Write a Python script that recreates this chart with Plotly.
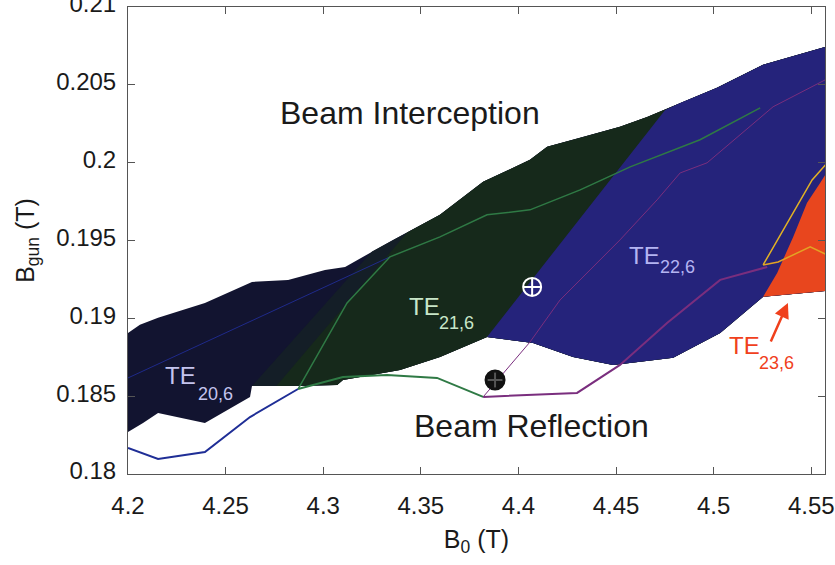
import plotly.graph_objects as go

# ---- data (B0 in T, Bgun in T) ----
top_x = [4.2, 4.2061, 4.2154, 4.2394, 4.2635, 4.2820, 4.3009, 4.3112, 4.3358, 4.3598, 4.3819,
         4.4059, 4.4147, 4.4316, 4.4520, 4.4659, 4.4828, 4.5017, 4.5253, 4.5376, 4.5571]
top_y = [0.18906, 0.18958, 0.19003, 0.19099, 0.19234, 0.19247, 0.19311, 0.19330, 0.19504, 0.19665, 0.19877,
         0.20018, 0.20102, 0.20159, 0.20230, 0.20294, 0.20384, 0.20481, 0.20629, 0.20674, 0.20744]
bot_x = [4.2, 4.2077, 4.2154, 4.2394, 4.2625, 4.2635, 4.2881, 4.3071, 4.3101, 4.3393, 4.3598, 4.3839,
         4.4075, 4.4280, 4.4485, 4.4587, 4.4792, 4.5033, 4.5253, 4.5530, 4.5571]
bot_y = [0.18270, 0.18328, 0.18392, 0.18328, 0.18495, 0.18566, 0.18566, 0.18572, 0.18604, 0.18668, 0.18752, 0.18880,
         0.18842, 0.18752, 0.18701, 0.18713, 0.18746, 0.18906, 0.19138, 0.19170, 0.19176]

# boundaries between mode regions (bottom point, top point); 20/21 boundary is a soft transition
div21a_x = [4.2635, 4.3250]
div21a_y = [0.18566, 0.19430]
div21b_x = [4.2760, 4.3430]
div21b_y = [0.18566, 0.19552]
div22_x = [4.3839, 4.4751]
div22_y = [0.18880, 0.20339]

te23_x = [4.5253, 4.5325, 4.5407, 4.5478, 4.5545, 4.5571, 4.5571, 4.5530]
te23_y = [0.19138, 0.19292, 0.19523, 0.19742, 0.19870, 0.19922, 0.19176, 0.19170]

# contour lines
blue_low_x = [4.2, 4.2154, 4.2394, 4.2625, 4.2871]
blue_low_y = [0.18167, 0.18096, 0.18141, 0.18366, 0.18546]
blue_up_x = [4.2, 4.3342]
blue_up_y = [0.18617, 0.19395]
green_up_x = [4.2871, 4.3122, 4.3342, 4.3598, 4.3839, 4.4059, 4.4316, 4.4572, 4.4930, 4.5238]
green_up_y = [0.18546, 0.19099, 0.19395, 0.19523, 0.19665, 0.19697, 0.19825, 0.19973, 0.20147, 0.20352]
green_low_x = [4.2871, 4.3101, 4.3327, 4.3583, 4.3819]
green_low_y = [0.18546, 0.18623, 0.18636, 0.18617, 0.18495]
purple_low_x = [4.3819, 4.4300, 4.4520, 4.4761, 4.5033, 4.5274]
purple_low_y = [0.18495, 0.18521, 0.18701, 0.18970, 0.19247, 0.19330]
purple_up_x = [4.3819, 4.4059, 4.4213, 4.4520, 4.4710, 4.4828, 4.4966, 4.5304, 4.5571]
purple_up_y = [0.18495, 0.18848, 0.19118, 0.19504, 0.19761, 0.19934, 0.19999, 0.20359, 0.20532]
yellow_up_x = [4.5253, 4.5504, 4.5581]
yellow_up_y = [0.19343, 0.19889, 0.19999]
yellow_low_x = [4.5253, 4.5330, 4.5494, 4.5581]
yellow_low_y = [0.19343, 0.19362, 0.19459, 0.19407]

pt_white = (4.407, 0.19202)
pt_black = (4.388, 0.18604)

x_ticks = [4.2, 4.25, 4.3, 4.35, 4.4, 4.45, 4.5, 4.55]
x_ticktext = ["4.2", "4.25", "4.3", "4.35", "4.4", "4.45", "4.5", "4.55"]
y_ticks = [0.18, 0.185, 0.19, 0.195, 0.2, 0.205, 0.21]
y_ticktext = ["0.18", "0.185", "0.19", "0.195", "0.2", "0.205", "0.21"]

C_NAVY = "#121430"
C_MID = "#141e27"
C_GREEN = "#16291b"
C_BLUE = "#25237b"
C_RED = "#e8461e"
FONT = "Liberation Sans, Arial, Helvetica, sans-serif"


def region_right_of(dx, dy):
    """Polygon of the envelope to the right of a divider (bottom->top)."""
    xs = [dx[0], dx[1]]
    ys = [dy[0], dy[1]]
    for x, y in zip(top_x, top_y):
        if x > dx[1]:
            xs.append(x)
            ys.append(y)
    for x, y in reversed(list(zip(bot_x, bot_y))):
        if x > dx[0]:
            xs.append(x)
            ys.append(y)
    xs.append(dx[0])
    ys.append(dy[0])
    return xs, ys


fig = go.Figure()

def add_fill(xs, ys, color):
    fig.add_trace(go.Scatter(x=xs, y=ys, fill="toself", fillcolor=color, mode="lines",
                             line=dict(width=0), hoverinfo="skip"))

# TE20,6 (whole envelope first), then layered regions
add_fill(top_x + bot_x[::-1], top_y + bot_y[::-1], C_NAVY)
add_fill(*region_right_of(div21a_x, div21a_y), C_MID)
add_fill(*region_right_of(div21b_x, div21b_y), C_GREEN)
add_fill(*region_right_of(div22_x, div22_y), C_BLUE)
add_fill(te23_x, te23_y, C_RED)

# contour lines
def add_line(xs, ys, color, width):
    fig.add_trace(go.Scatter(x=xs, y=ys, mode="lines", line=dict(color=color, width=width),
                             hoverinfo="skip"))

add_line(blue_up_x, blue_up_y, "#1f2a8a", 1)
add_line(blue_low_x, blue_low_y, "#1f2e96", 2)
add_line(green_up_x, green_up_y, "#2f7a45", 1.5)
add_line(green_low_x, green_low_y, "#2f7a45", 2)
add_line(purple_up_x, purple_up_y, "#7a2e7e", 1)
add_line(purple_low_x, purple_low_y, "#7a2e7e", 2)
add_line(yellow_up_x, yellow_up_y, "#e3b224", 1.5)
add_line(yellow_low_x, yellow_low_y, "#e3a324", 1.5)

# operating points
fig.add_trace(go.Scatter(x=[pt_white[0]], y=[pt_white[1]], mode="markers",
                         marker=dict(symbol="circle-cross-open", size=18, color="white",
                                     line=dict(width=2, color="white")), hoverinfo="skip"))
fig.add_trace(go.Scatter(x=[pt_black[0]], y=[pt_black[1]], mode="markers",
                         marker=dict(symbol="circle-cross", size=18, color="#111111",
                                     line=dict(width=2, color="#555555")), hoverinfo="skip"))
fig.add_trace(go.Scatter(x=[pt_black[0]], y=[pt_black[1]], mode="markers",
                         marker=dict(symbol="circle-open", size=18, color="#111111",
                                     line=dict(width=3, color="#111111")), hoverinfo="skip"))

ann = []
ann.append(dict(x=4.3445, y=0.20320, text="Beam Interception", showarrow=False,
                font=dict(family=FONT, size=32, color="#1a1a1a"), xanchor="center", yanchor="middle"))
ann.append(dict(x=4.4065, y=0.18308, text="Beam Reflection", showarrow=False,
                font=dict(family=FONT, size=32, color="#1a1a1a"), xanchor="center", yanchor="middle"))

labels = [
    ("20,6", 4.2179, 0.18630, 4.2348, 0.18517, "#c4c4ee"),
    ("21,6", 4.3429, 0.19073, 4.3583, 0.18967, "#c8e6c8"),
    ("22,6", 4.4556, 0.19401, 4.4715, 0.19330, "#b4b4f2"),
    ("23,6", 4.5069, 0.18823, 4.5222, 0.18710, "#f0401c"),
]
for sub, tx, ty, sx, sy, col in labels:
    ann.append(dict(x=tx, y=ty, text="TE", showarrow=False, xanchor="left", yanchor="middle",
                    font=dict(family=FONT, size=24, color=col)))
    ann.append(dict(x=sx, y=sy, text=sub, showarrow=False, xanchor="left", yanchor="middle",
                    font=dict(family=FONT, size=18, color=col)))

# arrow to TE23,6
ann.append(dict(x=4.538, y=0.19099, ax=4.5289, ay=0.18842, axref="x", ayref="y", xref="x", yref="y",
                text="", showarrow=True, arrowhead=2, arrowsize=1.2, arrowwidth=2.5, arrowcolor="#f0401c"))

fig.update_layout(
    width=835, height=565,
    margin=dict(l=128, r=10, t=7, b=91, autoexpand=False),
    plot_bgcolor="white", paper_bgcolor="white",
    showlegend=False,
    annotations=ann,
    font=dict(family=FONT, color="#1a1a1a"),
)
fig.update_xaxes(range=[4.2, 4.557], tickvals=x_ticks, ticktext=x_ticktext, ticks="inside", ticklen=7,
                 tickcolor="#555", showline=True, linecolor="#555", linewidth=1, mirror="ticks",
                 showgrid=False, zeroline=False, tickfont=dict(size=24, family=FONT, color="#1a1a1a"),
                 ticklabelstandoff=10, automargin=False, ticklabeloverflow="allow",
                 title=dict(text="B<sub>0</sub> (T)", font=dict(size=25, family=FONT, color="#1a1a1a"),
                            standoff=12))
fig.update_yaxes(range=[0.18, 0.21], tickvals=y_ticks, ticktext=y_ticktext, ticks="inside", ticklen=7,
                 tickcolor="#555", showline=True, linecolor="#555", linewidth=1, mirror="ticks",
                 showgrid=False, zeroline=False, tickfont=dict(size=24, family=FONT, color="#1a1a1a"),
                 ticklabelstandoff=6, ticklabelshift=-3, automargin=False, ticklabeloverflow="allow",
                 title=dict(text="B<sub>gun</sub> (T)", font=dict(size=25, family=FONT, color="#1a1a1a"),
                            standoff=14))

# remove the default page margin so the figure sits at the window's top-left corner
fig.write_html("out.html", config={"displayModeBar": False},
               post_script="document.body.style.margin='0';")
